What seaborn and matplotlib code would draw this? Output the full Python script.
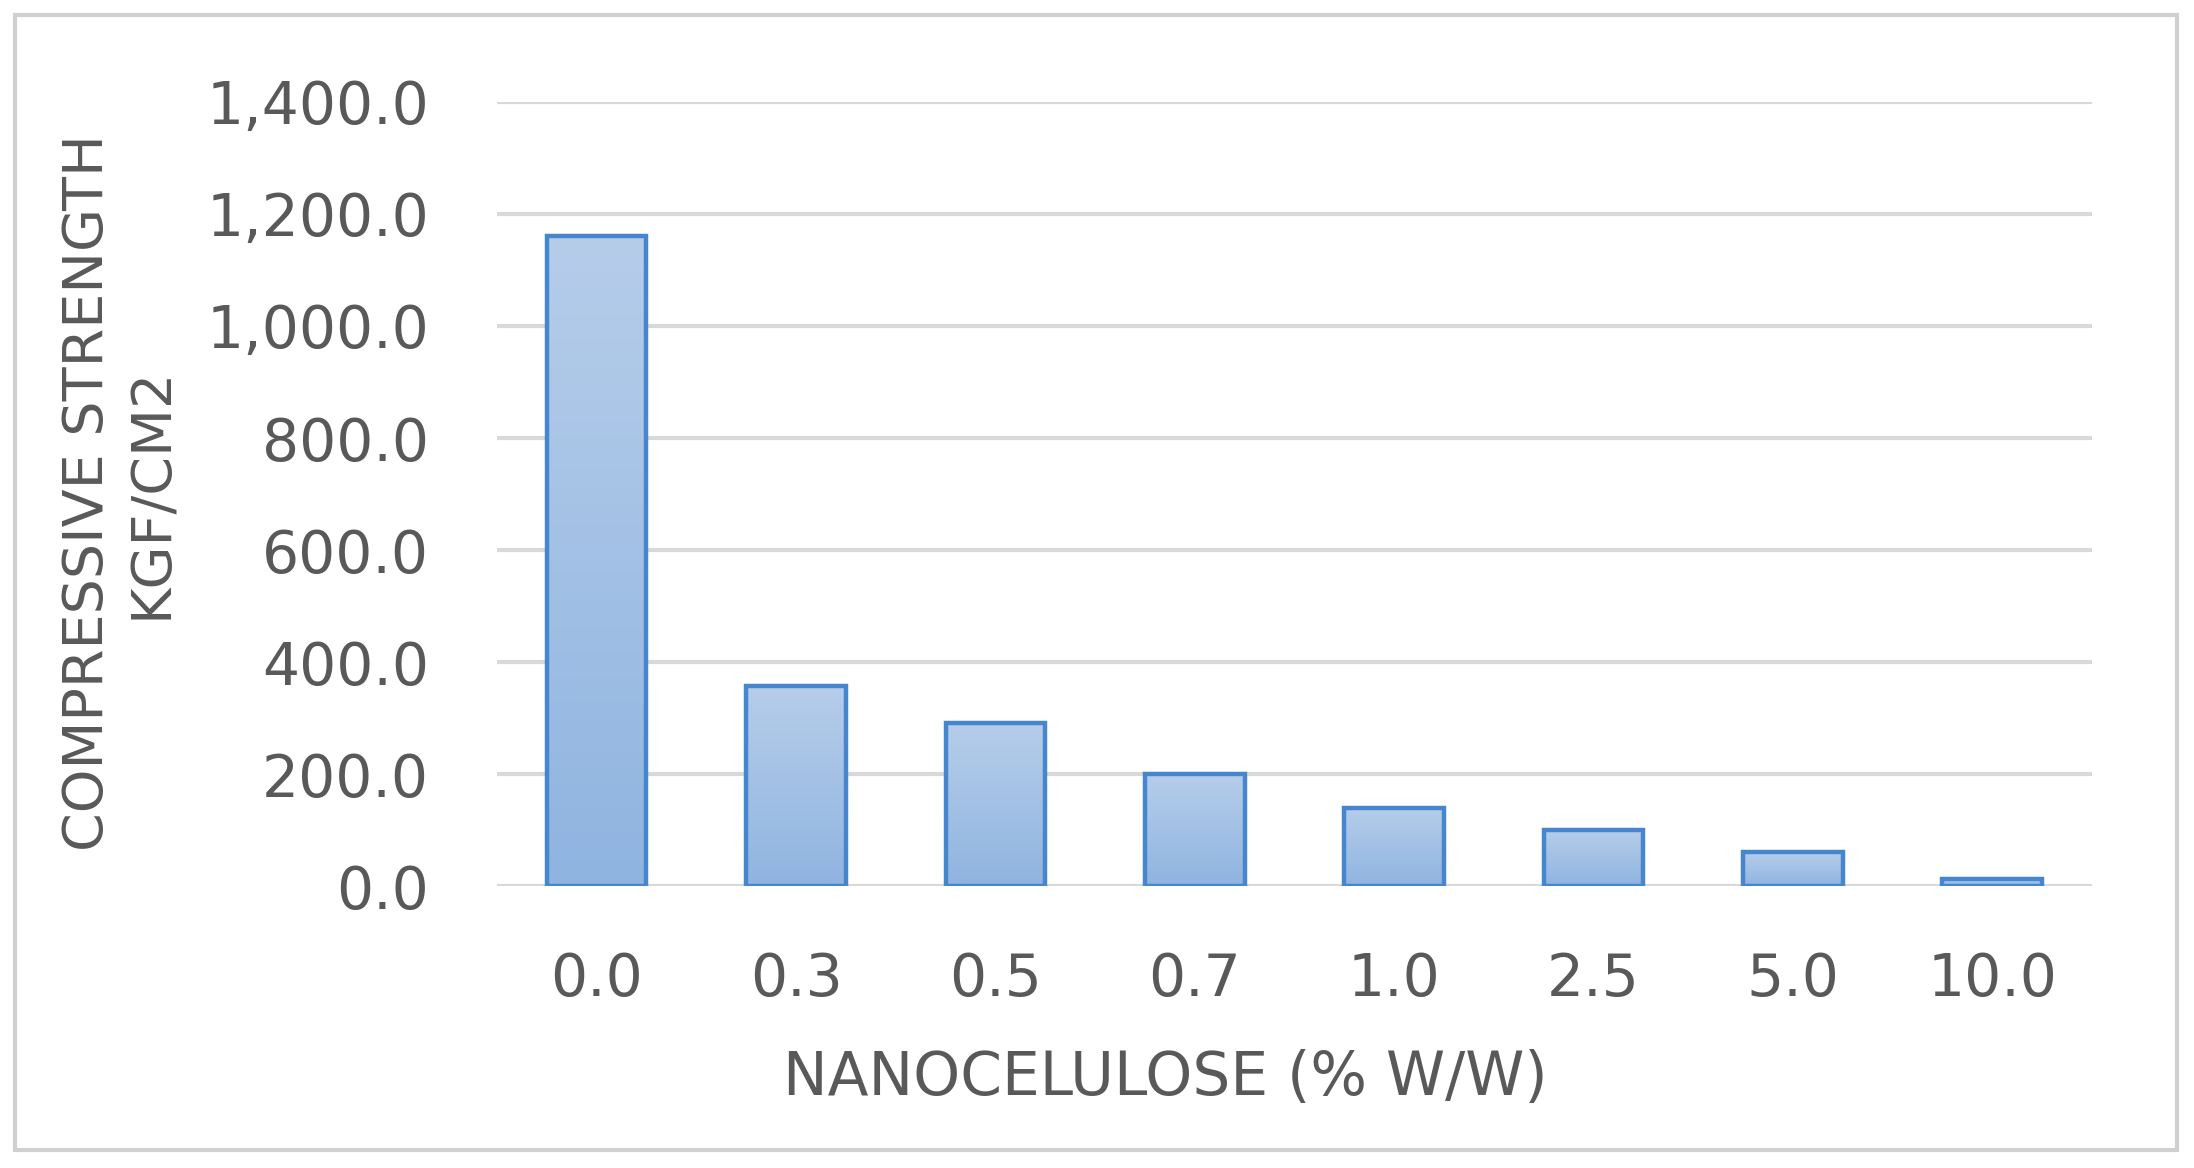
import numpy as np
import pandas as pd
import matplotlib
matplotlib.use("Agg")
import matplotlib.pyplot as plt
import seaborn as sns
from matplotlib.ticker import FuncFormatter
from matplotlib.patches import Rectangle

# data
nanocellulose = ["0.0", "0.3", "0.5", "0.7", "1.0", "2.5", "5.0", "10.0"]
compressive_strength = [1160, 358, 292, 200, 140, 100, 60, 12]

df = pd.DataFrame({"nano": nanocellulose, "strength": compressive_strength})

sns.set_theme(style="whitegrid")
plt.rcParams["font.family"] = ["DejaVu Sans"]

text_gray = "#595959"
grid_gray = "#d9d9d9"
edge_blue = "#4586cf"

fig = plt.figure(figsize=(21.94, 11.68), dpi=100)
ax = fig.add_axes([0.2265, 0.2414, 0.727, 0.6713])

sns.barplot(data=df, x="nano", y="strength", ax=ax, width=0.5,
            facecolor="none", edgecolor=edge_blue, linewidth=3.2, zorder=3)

# vertical gradient fill inside each bar (light top, darker bottom), clipped to the bar
grad = np.linspace(0, 1, 256).reshape(-1, 1)
cmap = matplotlib.colors.LinearSegmentedColormap.from_list("bar", ["#b6cdea", "#8fb4e0"])
for p in ax.patches:
    x0, y0 = p.get_x(), p.get_y()
    w, h = p.get_width(), p.get_height()
    im = ax.imshow(grad, cmap=cmap, aspect="auto", extent=(x0, x0 + w, y0, y0 + h),
                   zorder=2, origin="upper")
    im.set_clip_path(p)

ax.set_xlim(-0.5, 7.5)
ax.set_ylim(0, 1400)
ax.set_yticks(np.arange(0, 1401, 200))
ax.yaxis.set_major_formatter(FuncFormatter(lambda v, _: f"{v:,.1f}"))

ax.grid(axis="y", color=grid_gray, linewidth=3)
ax.grid(axis="x", visible=False)
ax.set_axisbelow(True)
for s in ax.spines.values():
    s.set_visible(False)

ax.tick_params(axis="y", length=0, pad=49, labelsize=42, labelcolor=text_gray)
ax.tick_params(axis="x", length=0, pad=47, labelsize=42, labelcolor=text_gray)
ax.set_xlabel("")
ax.set_ylabel("")

fig.text(0.531, 0.077, "NANOCELULOSE (% W/W)", ha="center", va="center",
         fontsize=43, color=text_gray)
fig.text(0.0547, 0.578, "COMPRESSIVE STRENGTH\nKGF/CM2", ha="center", va="center",
         rotation=90, fontsize=40, color=text_gray, linespacing=1.25,
         multialignment="center")

# light frame round the chart area
fig.patches.append(Rectangle((15 / 2194, 1 - 1150 / 1168), (2177 - 15) / 2194,
                             (1150 - 15) / 1168, transform=fig.transFigure,
                             fill=False, edgecolor="#d0d0d0", linewidth=3))

fig.savefig("out.png", dpi=100, facecolor="white")
